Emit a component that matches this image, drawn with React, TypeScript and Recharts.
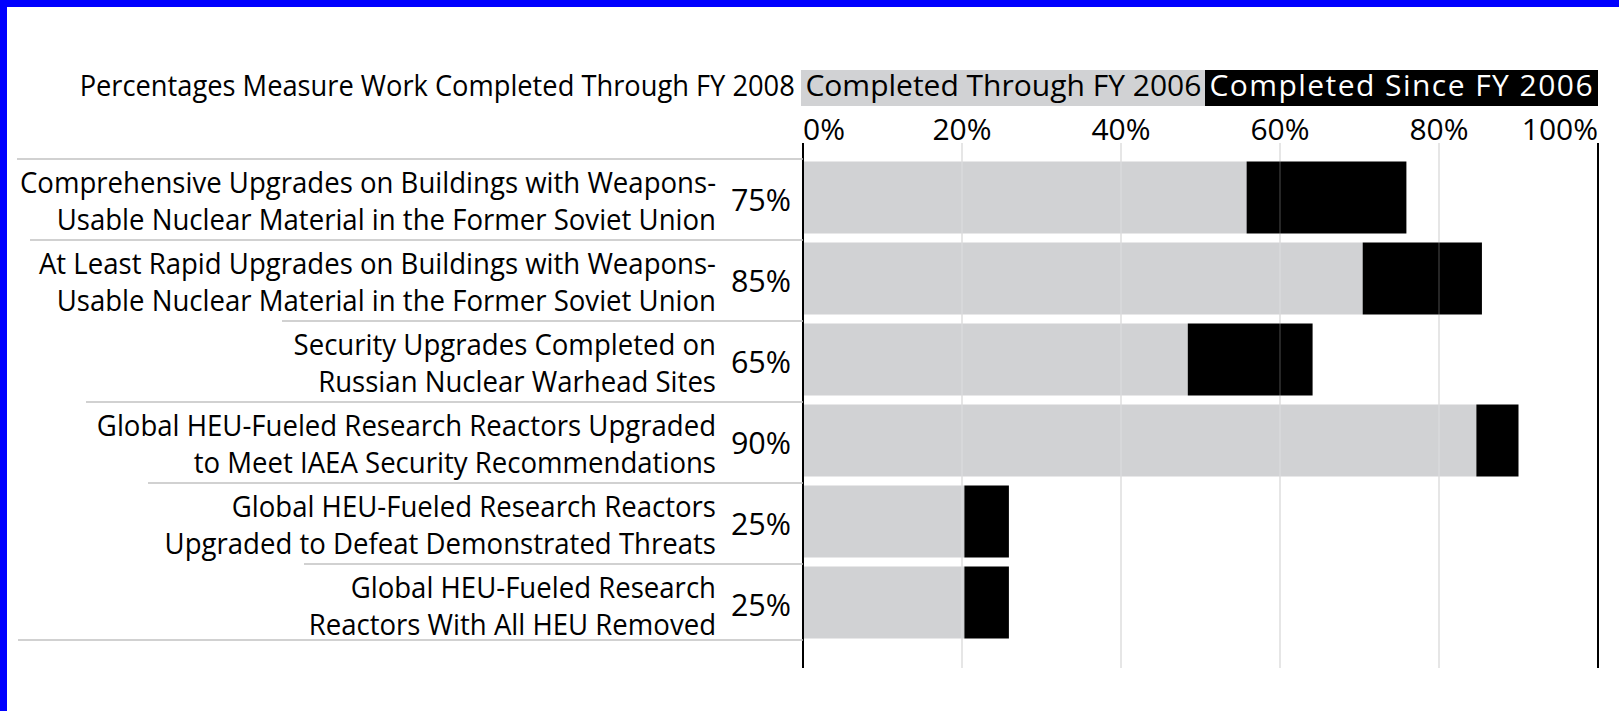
import React from 'react'
import {
  BarChart,
  Bar,
  XAxis,
  YAxis,
  CartesianGrid,
  ReferenceLine,
  Legend,
} from 'recharts'

const programLines = [
  ['Comprehensive Upgrades on Buildings with Weapons-', 'Usable Nuclear Material in the Former Soviet Union'],
  ['At Least Rapid Upgrades on Buildings with Weapons-', 'Usable Nuclear Material in the Former Soviet Union'],
  ['Security Upgrades Completed on', 'Russian Nuclear Warhead Sites'],
  ['Global HEU-Fueled Research Reactors Upgraded', 'to Meet IAEA Security Recommendations'],
  ['Global HEU-Fueled Research Reactors', 'Upgraded to Defeat Demonstrated Threats'],
  ['Global HEU-Fueled Research', 'Reactors With All HEU Removed'],
]
const throughFY2006 = [55.8, 70.4, 48.4, 84.7, 20.3, 20.3]
const sinceFY2006 = [20.1, 15.0, 15.7, 5.3, 5.6, 5.6]
const totalLabels = ['75%', '85%', '65%', '90%', '25%', '25%']
const xTicks = [0, 20, 40, 60, 80, 100]
const seriesNames = ['Completed Through FY 2006', 'Completed Since FY 2006']
const note = 'Percentages Measure Work Completed Through FY 2008'

const data = programLines.map((lines, i) => ({
  id: `p${i}`,
  lines,
  through: throughFY2006[i],
  since: sinceFY2006[i],
  total: totalLabels[i],
}))

// layout
const W = 1619
const H = 711
const PLOT_L = 803
const PLOT_R = 1598
const PLOT_T = 143
const PLOT_B = 668
const X_AXIS_H = 40
const SX_NOTE = 0.94 // horizontal squeeze for the condensed-looking text
const SX_LABEL = 0.951
const FONT = '"Open Sans", sans-serif'
const GRAY = '#d1d2d4'
const BLACK = '#000000'
// where each row separator starts on the left (last one is the bottom rule)
const SEP_X = [17, 30, 282, 86, 148, 304, 18]

function CategoryTick(props: any) {
  const { x, y, payload } = props
  const row = data.findIndex(d => d.id === payload.value)
  if (row < 0) return null
  const d = data[row]
  const last = row === data.length - 1
  return (
    <g>
      <line x1={SEP_X[row]} x2={x} y1={y - 38} y2={y - 38} stroke="#c2c2c2" strokeWidth={1.5} />
      {last && (
        <line x1={SEP_X[row + 1]} x2={x} y1={y + 38} y2={y + 38} stroke="#c2c2c2" strokeWidth={1.5} />
      )}
      {d.lines.map((t, k) => (
        <text
          key={k}
          transform={`translate(${x - 87},${y - 4 + k * 37}) scale(${SX_LABEL},1)`}
          textAnchor="end"
          fontFamily={FONT}
          fontSize={29}
          fill="#000"
        >
          {t}
        </text>
      ))}
      <text x={x - 12} y={y + 14} textAnchor="end" fontFamily={FONT} fontSize={30.5} fill="#000">
        {d.total}
      </text>
    </g>
  )
}

function PercentTick(props: any) {
  const { x, y, payload } = props
  const v = payload.value
  const anchor = v === 0 ? 'start' : v === 100 ? 'end' : 'middle'
  return (
    <text x={x} y={y - 3} textAnchor={anchor} fontFamily={FONT} fontSize={30} fill="#000">
      {`${v}%`}
    </text>
  )
}

function LegendRow(props: any) {
  const payload: any[] = props.payload ?? []
  const items = seriesNames
    .map(name => payload.find(p => p.value === name))
    .filter(Boolean)
  return (
    <div
      style={{
        display: 'flex',
        justifyContent: 'flex-end',
        whiteSpace: 'nowrap',
        fontFamily: FONT,
        height: 36,
      }}
    >
      <span
        style={{
          display: 'inline-block',
          fontSize: 29,
          lineHeight: '30px',
          transform: `scaleX(${SX_NOTE})`,
          transformOrigin: 'right center',
          marginRight: 7,
          color: '#000',
        }}
      >
        {note}
      </span>
      {items.map((p: any) => {
        const dark = p.color === BLACK
        return (
          <span
            key={p.value}
            style={{
              display: 'inline-block',
              height: 36,
              fontSize: 30,
              lineHeight: '30px',
              background: p.color,
              color: dark ? '#fff' : '#000',
              padding: '0 4px',
              letterSpacing: dark ? 1.45 : 0,
            }}
          >
            {p.value}
          </span>
        )
      })}
    </div>
  )
}

export default function App() {
  return (
    <div
      style={{
        position: 'fixed',
        left: 0,
        top: 0,
        width: W,
        height: H,
        background: '#fff',
        overflow: 'hidden',
      }}
    >
      <div style={{ position: 'absolute', left: 0, top: 0 }}>
        <BarChart
          width={W}
          height={H}
          data={data}
          layout="vertical"
          margin={{ top: PLOT_T - X_AXIS_H, right: W - PLOT_R, bottom: H - PLOT_B, left: 0 }}
        >
          <CartesianGrid horizontal={false} stroke="#d9d9d9" strokeWidth={1.5} />
          <XAxis
            type="number"
            orientation="top"
            domain={[0, 100]}
            ticks={xTicks}
            interval={0}
            height={X_AXIS_H}
            axisLine={false}
            tickLine={false}
            tickSize={0}
            tickMargin={0}
            tick={<PercentTick />}
          />
          <YAxis
            type="category"
            dataKey="id"
            width={PLOT_L}
            interval={0}
            axisLine={false}
            tickLine={false}
            tickSize={0}
            tickMargin={0}
            padding={{ top: 13.5, bottom: 25.5 }}
            tick={<CategoryTick />}
          />
          <Legend
            content={<LegendRow />}
            layout="horizontal"
            align="center"
            verticalAlign="middle"
            wrapperStyle={{ top: 70, right: W - PLOT_R, left: 'auto', bottom: 'auto', width: 'auto', height: 36 }}
          />
          <Bar
            dataKey="through"
            name={seriesNames[0]}
            stackId="a"
            fill={GRAY}
            barSize={72}
            isAnimationActive={false}
          />
          <Bar
            dataKey="since"
            name={seriesNames[1]}
            stackId="a"
            fill={BLACK}
            barSize={72}
            isAnimationActive={false}
          />
          {xTicks.slice(1, -1).map(v => (
            <ReferenceLine key={v} x={v} stroke="#ffffff" strokeOpacity={0.2} strokeWidth={1.5} />
          ))}
          <ReferenceLine x={0} stroke="#000" strokeWidth={2} />
          <ReferenceLine x={100} stroke="#000" strokeWidth={2} />
        </BarChart>
      </div>
      <div style={{ position: 'absolute', left: 0, top: 0, width: W, height: 7, background: '#0000ff' }} />
      <div style={{ position: 'absolute', left: 0, top: 0, width: 7, height: H, background: '#0000ff' }} />
    </div>
  )
}
